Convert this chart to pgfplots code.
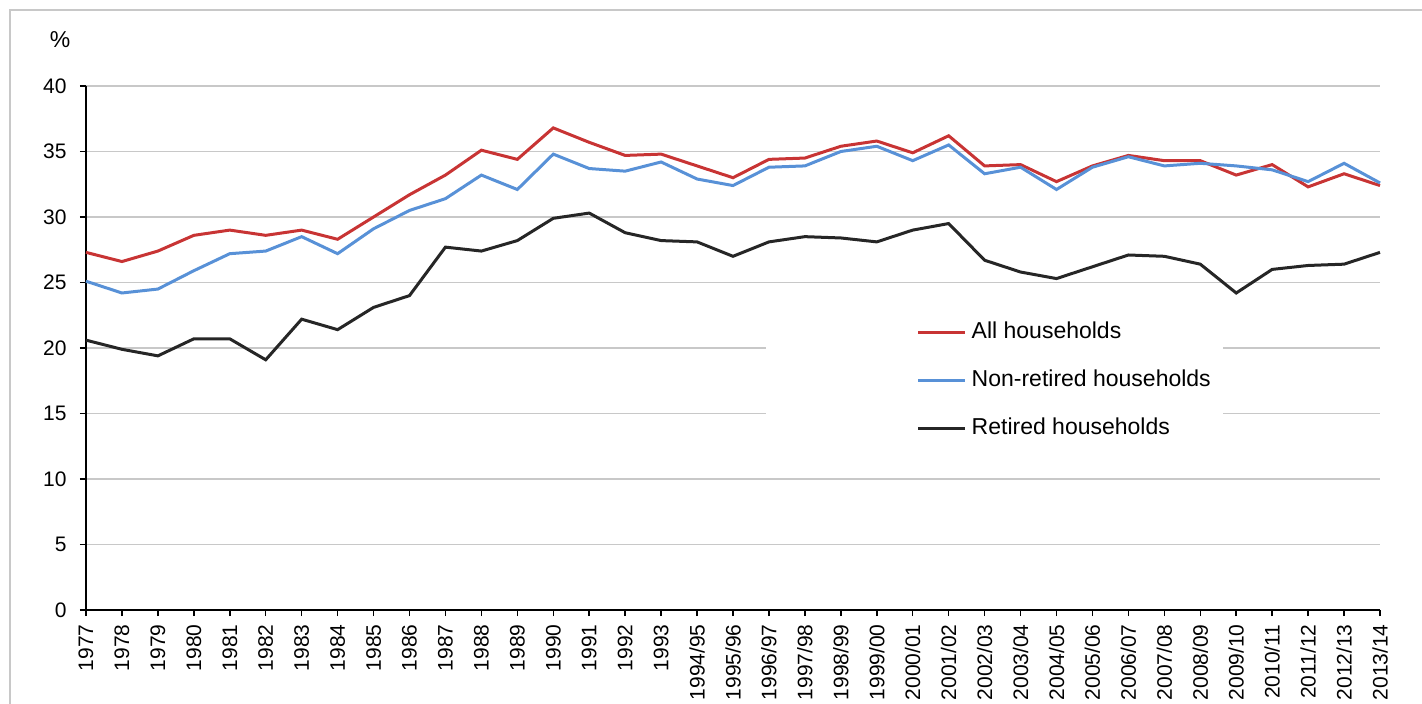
\documentclass[border=0pt]{standalone}
\usepackage{pgfplots}
\pgfplotsset{compat=1.18}
\usepackage{fontspec}
\setmainfont{Liberation Sans}
\definecolor{cred}{RGB}{200,52,52}
\definecolor{cblue}{RGB}{88,145,215}
\definecolor{cblack}{RGB}{38,38,38}
\definecolor{cgrid}{RGB}{200,200,200}
\begin{document}
\begin{tikzpicture}
\useasboundingbox (-43pt,-46.5pt) rectangle (668pt,305pt);
\begin{axis}[
  at={(0,0)}, anchor=south west,
  scale only axis, width=647pt, height=262pt,
  xmin=0, xmax=36, ymin=0, ymax=40,
  xtick={0,...,36},
  xticklabels={1977,1978,1979,1980,1981,1982,1983,1984,1985,1986,1987,1988,1989,1990,1991,1992,1993,1994/95,1995/96,1996/97,1997/98,1998/99,1999/00,2000/01,2001/02,2002/03,2003/04,2004/05,2005/06,2006/07,2007/08,2008/09,2009/10,2010/11,2011/12,2012/13,2013/14},
  ytick={0,5,...,40},
  ymajorgrids, grid style={cgrid, line width=0.75pt},
  axis x line*=bottom, axis y line*=left,
  axis line style={black, line width=0.75pt},
  tick style={black, line width=0.75pt},
  tick align=outside, major tick length=3pt,
  /pgf/number format/assume math mode=true,
  ticklabel style={font=\fontsize{10.5}{12}\selectfont},
  xticklabel style={rotate=90, anchor=east, inner sep=1pt, xshift=-3pt},
  yticklabel style={inner sep=2pt, xshift=-4.5pt},
  legend style={at={(axis cs:23.1,22.1)}, anchor=north west, draw=none, fill=none,
    font=\fontsize{11.5}{13}\selectfont, row sep=12pt, inner sep=0pt,
    nodes={inner xsep=2.5pt, inner ysep=0pt, text height=9pt, text depth=3pt}},
  legend cell align=left,
  legend image code/.code={\draw[#1] (0pt,0pt) -- (23.5pt,0pt);},
  clip=false,
]
\fill[white] (axis cs:18.92,10.7) rectangle (axis cs:31.64,24.4);
\addplot[cred, line width=1.5pt] coordinates {
(0,27.3)(1,26.6)(2,27.4)(3,28.6)(4,29.0)(5,28.6)(6,29.0)(7,28.3)(8,30.0)(9,31.7)
(10,33.2)(11,35.1)(12,34.4)(13,36.8)(14,35.7)(15,34.7)(16,34.8)(17,33.9)(18,33.0)(19,34.4)
(20,34.5)(21,35.4)(22,35.8)(23,34.9)(24,36.2)(25,33.9)(26,34.0)(27,32.7)(28,33.9)(29,34.7)
(30,34.3)(31,34.3)(32,33.2)(33,34.0)(34,32.3)(35,33.3)(36,32.4)};
\addlegendentry{All households}
\addplot[cblue, line width=1.5pt] coordinates {
(0,25.1)(1,24.2)(2,24.5)(3,25.9)(4,27.2)(5,27.4)(6,28.5)(7,27.2)(8,29.1)(9,30.5)
(10,31.4)(11,33.2)(12,32.1)(13,34.8)(14,33.7)(15,33.5)(16,34.2)(17,32.9)(18,32.4)(19,33.8)
(20,33.9)(21,35.0)(22,35.4)(23,34.3)(24,35.5)(25,33.3)(26,33.8)(27,32.1)(28,33.8)(29,34.6)
(30,33.9)(31,34.1)(32,33.9)(33,33.6)(34,32.7)(35,34.1)(36,32.6)};
\addlegendentry{Non-retired households}
\addplot[cblack, line width=1.5pt] coordinates {
(0,20.6)(1,19.9)(2,19.4)(3,20.7)(4,20.7)(5,19.1)(6,22.2)(7,21.4)(8,23.1)(9,24.0)
(10,27.7)(11,27.4)(12,28.2)(13,29.9)(14,30.3)(15,28.8)(16,28.2)(17,28.1)(18,27.0)(19,28.1)
(20,28.5)(21,28.4)(22,28.1)(23,29.0)(24,29.5)(25,26.7)(26,25.8)(27,25.3)(28,26.2)(29,27.1)
(30,27.0)(31,26.4)(32,24.2)(33,26.0)(34,26.3)(35,26.4)(36,27.3)};
\addlegendentry{Retired households}
\node[font=\fontsize{11.5}{13}\selectfont] at ([xshift=-13pt,yshift=23pt]rel axis cs:0,1) {\%};
\end{axis}
\draw[cgrid, line width=0.75pt] (-38pt,-47pt) -- (-38pt,300pt) -- (670pt,300pt);
\end{tikzpicture}
\end{document}
